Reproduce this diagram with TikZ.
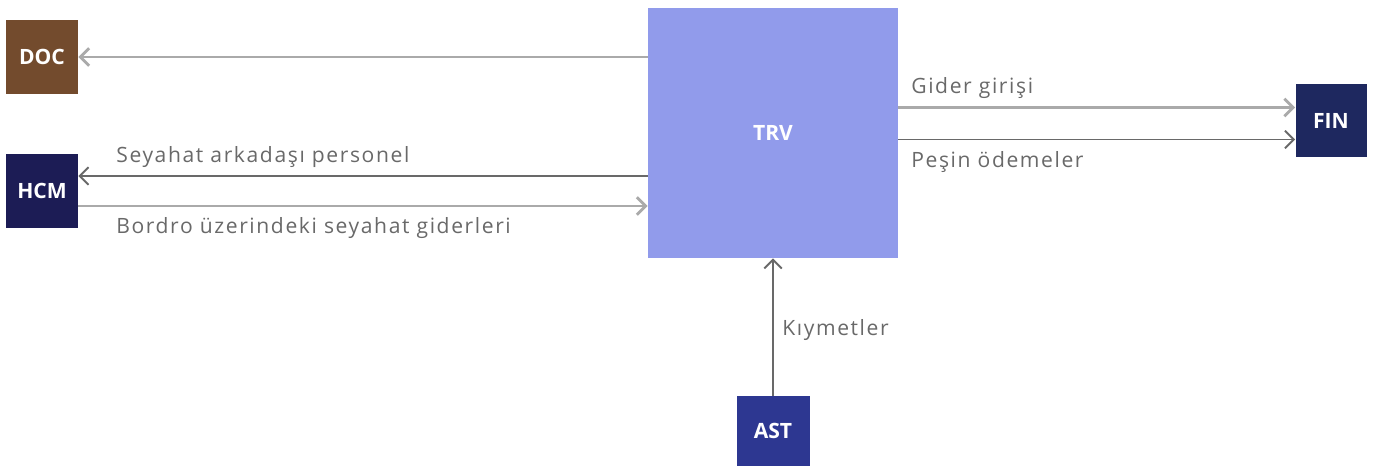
\documentclass[tikz,border=0pt]{standalone}
\usepackage{fontspec}
\setmainfont{Open Sans}
\newfontfamily\lblfont[LetterSpace=7.6]{Open Sans}
\usetikzlibrary{arrows.meta}
\definecolor{moddoc}{RGB}{115,75,45}
\definecolor{modhcm}{RGB}{28,28,85}
\definecolor{modtrv}{RGB}{145,155,235}
\definecolor{modfin}{RGB}{30,40,95}
\definecolor{modast}{RGB}{45,55,145}
\definecolor{flowd}{RGB}{105,105,105}
\definecolor{flowl}{RGB}{170,170,170}
\definecolor{flowt}{RGB}{105,105,105}

\begin{document}
\begin{tikzpicture}[
  x=0.02cm, y=0.02cm,
  sys/.style={
    rectangle, inner sep=0pt,
    minimum width=1.44cm, minimum height=1.48cm,
    text=white, font=\bfseries\fontsize{12}{14}\selectfont
  },
  arr/.style={-{Straight Barb[length=5pt,width=10pt]},line width=1.1pt,color=flowd},
  arrl/.style={arr,line width=1.6pt,color=flowl},
  lbl/.style={anchor=west,inner sep=0pt,text=flowt,font=\lblfont\fontsize{12}{14}\selectfont}
]
\useasboundingbox (0,0) rectangle (1373,466);

\node[sys,fill=moddoc] (doc) at (42,409) {DOC};
\node[sys,fill=modhcm] (hcm) at (42,275) {HCM};
\node[sys,fill=modtrv,minimum width=5cm,minimum height=5cm] (trv) at (773,333) {TRV};
\node[sys,fill=modfin,minimum width=1.42cm,minimum height=1.46cm] (fin) at (1331,345) {FIN};
\node[sys,fill=modast,minimum width=1.46cm,minimum height=1.4cm] (ast) at (773,35) {AST};

\coordinate (h1) at ([yshift=0.3cm]hcm.east);
\coordinate (h2) at ([yshift=-0.3cm]hcm.east);
\coordinate (f1) at ([yshift=0.27cm]fin.west);
\coordinate (f2) at ([yshift=-0.37cm]fin.west);

\draw[arrl](trv.west |- doc.east)--(doc.east);
\draw[arr](trv.west |- h1)--(h1);
\draw[arrl](h2)--(trv.west |- h2);
\draw[arrl](trv.east |- f1)--(f1);
\draw[arr](trv.east |- f2)--(f2);
\draw[arr](ast.north)--(trv.south);

\node[lbl] (l1) at (116,309) {Seyahat arkadaşı personel};
\node[lbl] (l2) at (116,238) {Bordro üzerindeki seyahat giderleri};
\node[lbl] (l3) at (911,378) {Gider girişi};
\node[lbl] (l4) at (911,304) {Peşin ödemeler};
\node[lbl] (l5) at (782,136) {Kıymetler};
\end{tikzpicture}
\end{document}
